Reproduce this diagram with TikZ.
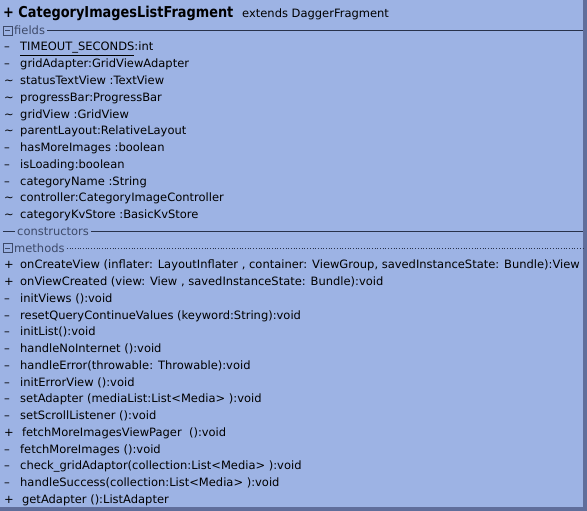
\documentclass[tikz,border=0pt]{standalone}
\usepackage{fontspec}
\setmainfont{DejaVu Sans}
\definecolor{bg}{RGB}{157,179,228}
\definecolor{bordc}{RGB}{96,110,155}
\definecolor{headc}{RGB}{62,74,105}
\definecolor{linec}{RGB}{40,50,75}
\tikzset{
  mk/.style={inner sep=0pt, anchor=base west, font=\fontsize{11.5}{13}\selectfont},
  txt/.style={inner sep=0pt, anchor=base west, font=\fontsize{11.5}{13}\selectfont},
  head/.style={inner sep=0pt, anchor=base west, text=headc, font=\fontsize{11.5}{13}\selectfont},
  sepline/.style={draw=linec, line width=0.9pt},
  togglebox/.style={draw=headc, line width=0.6pt}
}
\newcommand\umlrow[4]{%
  \node[mk] (m#1) at (4,{51+16.75*#2}) {#3};
  \node[txt] (t#1) at (20,{51+16.75*#2}) {#4};}
\begin{document}
\begin{tikzpicture}[x=1pt,y=-1pt]
\useasboundingbox (0,0) rectangle (587,511);
\fill[bg] (0,0) rectangle (587,511);
\fill[bordc] (583,0) rectangle (587,511);
\fill[bordc] (0,507) rectangle (587,511);
% title
\node[inner sep=0pt, anchor=base west, font=\fontsize{15}{17}\selectfont\bfseries] (title) at (3,18) {\scalebox{0.86}[1]{+ CategoryImagesListFragment}};
\node[inner sep=0pt, anchor=base west, font=\fontsize{11.5}{13}\selectfont] (ext) at (242,18) {extends DaggerFragment};
% fields heading
\draw[togglebox] (3,26) rectangle (12,35);
\draw[togglebox] (5,30.5) -- (10,30.5);
\node[head] (fields) at (14,34.25) {fields};
\coordinate (fe) at (583,30);
\draw[sepline] ([xshift=2pt]fields.east |- fe) -- (fe);
\umlrow{a}{0}{\textendash}{\underline{TIMEOUT\_SECONDS}:int}
\umlrow{b}{1}{\textendash}{gridAdapter:GridViewAdapter}
\umlrow{c}{2}{\textasciitilde}{statusTextView :TextView}
\umlrow{d}{3}{\textasciitilde}{progressBar:ProgressBar}
\umlrow{e}{4}{\textasciitilde}{gridView :GridView}
\umlrow{f}{5}{\textasciitilde}{parentLayout:RelativeLayout}
\umlrow{g}{6}{\textendash}{hasMoreImages :boolean}
\umlrow{h}{7}{\textendash}{isLoading:boolean}
\umlrow{i}{8}{\textendash}{categoryName :String}
\umlrow{j}{9}{\textasciitilde}{controller:CategoryImageController}
\umlrow{k}{10}{\textasciitilde}{categoryKvStore :BasicKvStore}
% constructors
\node[head] (cons) at (17,235.25) {constructors};
\coordinate (cs) at (3,231.25);
\coordinate (ce) at (583,231.25);
\draw[sepline] (cs) -- ([xshift=-2pt]cons.west |- cs);
\draw[sepline] ([xshift=2pt]cons.east |- ce) -- (ce);
% methods
\draw[togglebox] (3,243.5) rectangle (12,252.5);
\draw[togglebox] (5,248) -- (10,248);
\node[head] (meth) at (14,252) {methods};
\coordinate (me) at (583,248);
\draw[draw=linec, line width=0.7pt, dotted] ([xshift=2pt]meth.east |- me) -- (me);
\umlrow{n}{13}{+}{onCreateView (inflater: LayoutInflater , container: ViewGroup, savedInstanceState: Bundle):View}
\umlrow{o}{14}{+}{onViewCreated (view: View , savedInstanceState: Bundle):void}
\umlrow{p}{15}{\textendash}{initViews ():void}
\umlrow{q}{16}{\textendash}{resetQueryContinueValues (keyword:String):void}
\umlrow{r}{17}{\textendash}{initList():void}
\umlrow{s}{18}{\textendash}{handleNoInternet ():void}
\umlrow{t}{19}{\textendash}{handleError(throwable: Throwable):void}
\umlrow{u}{20}{\textendash}{initErrorView ():void}
\umlrow{v}{21}{\textendash}{setAdapter (mediaList:List<Media> ):void}
\umlrow{w}{22}{\textendash}{setScrollListener ():void}
\umlrow{x}{23}{+}{\,fetchMoreImagesViewPager \ ():void}
\umlrow{y}{24}{\textendash}{fetchMoreImages ():void}
\umlrow{z}{25}{\textendash}{check\_gridAdaptor(collection:List<Media> ):void}
\umlrow{aa}{26}{\textendash}{handleSuccess(collection:List<Media> ):void}
\umlrow{ab}{27}{+}{\,getAdapter ():ListAdapter}
\end{tikzpicture}
\end{document}
